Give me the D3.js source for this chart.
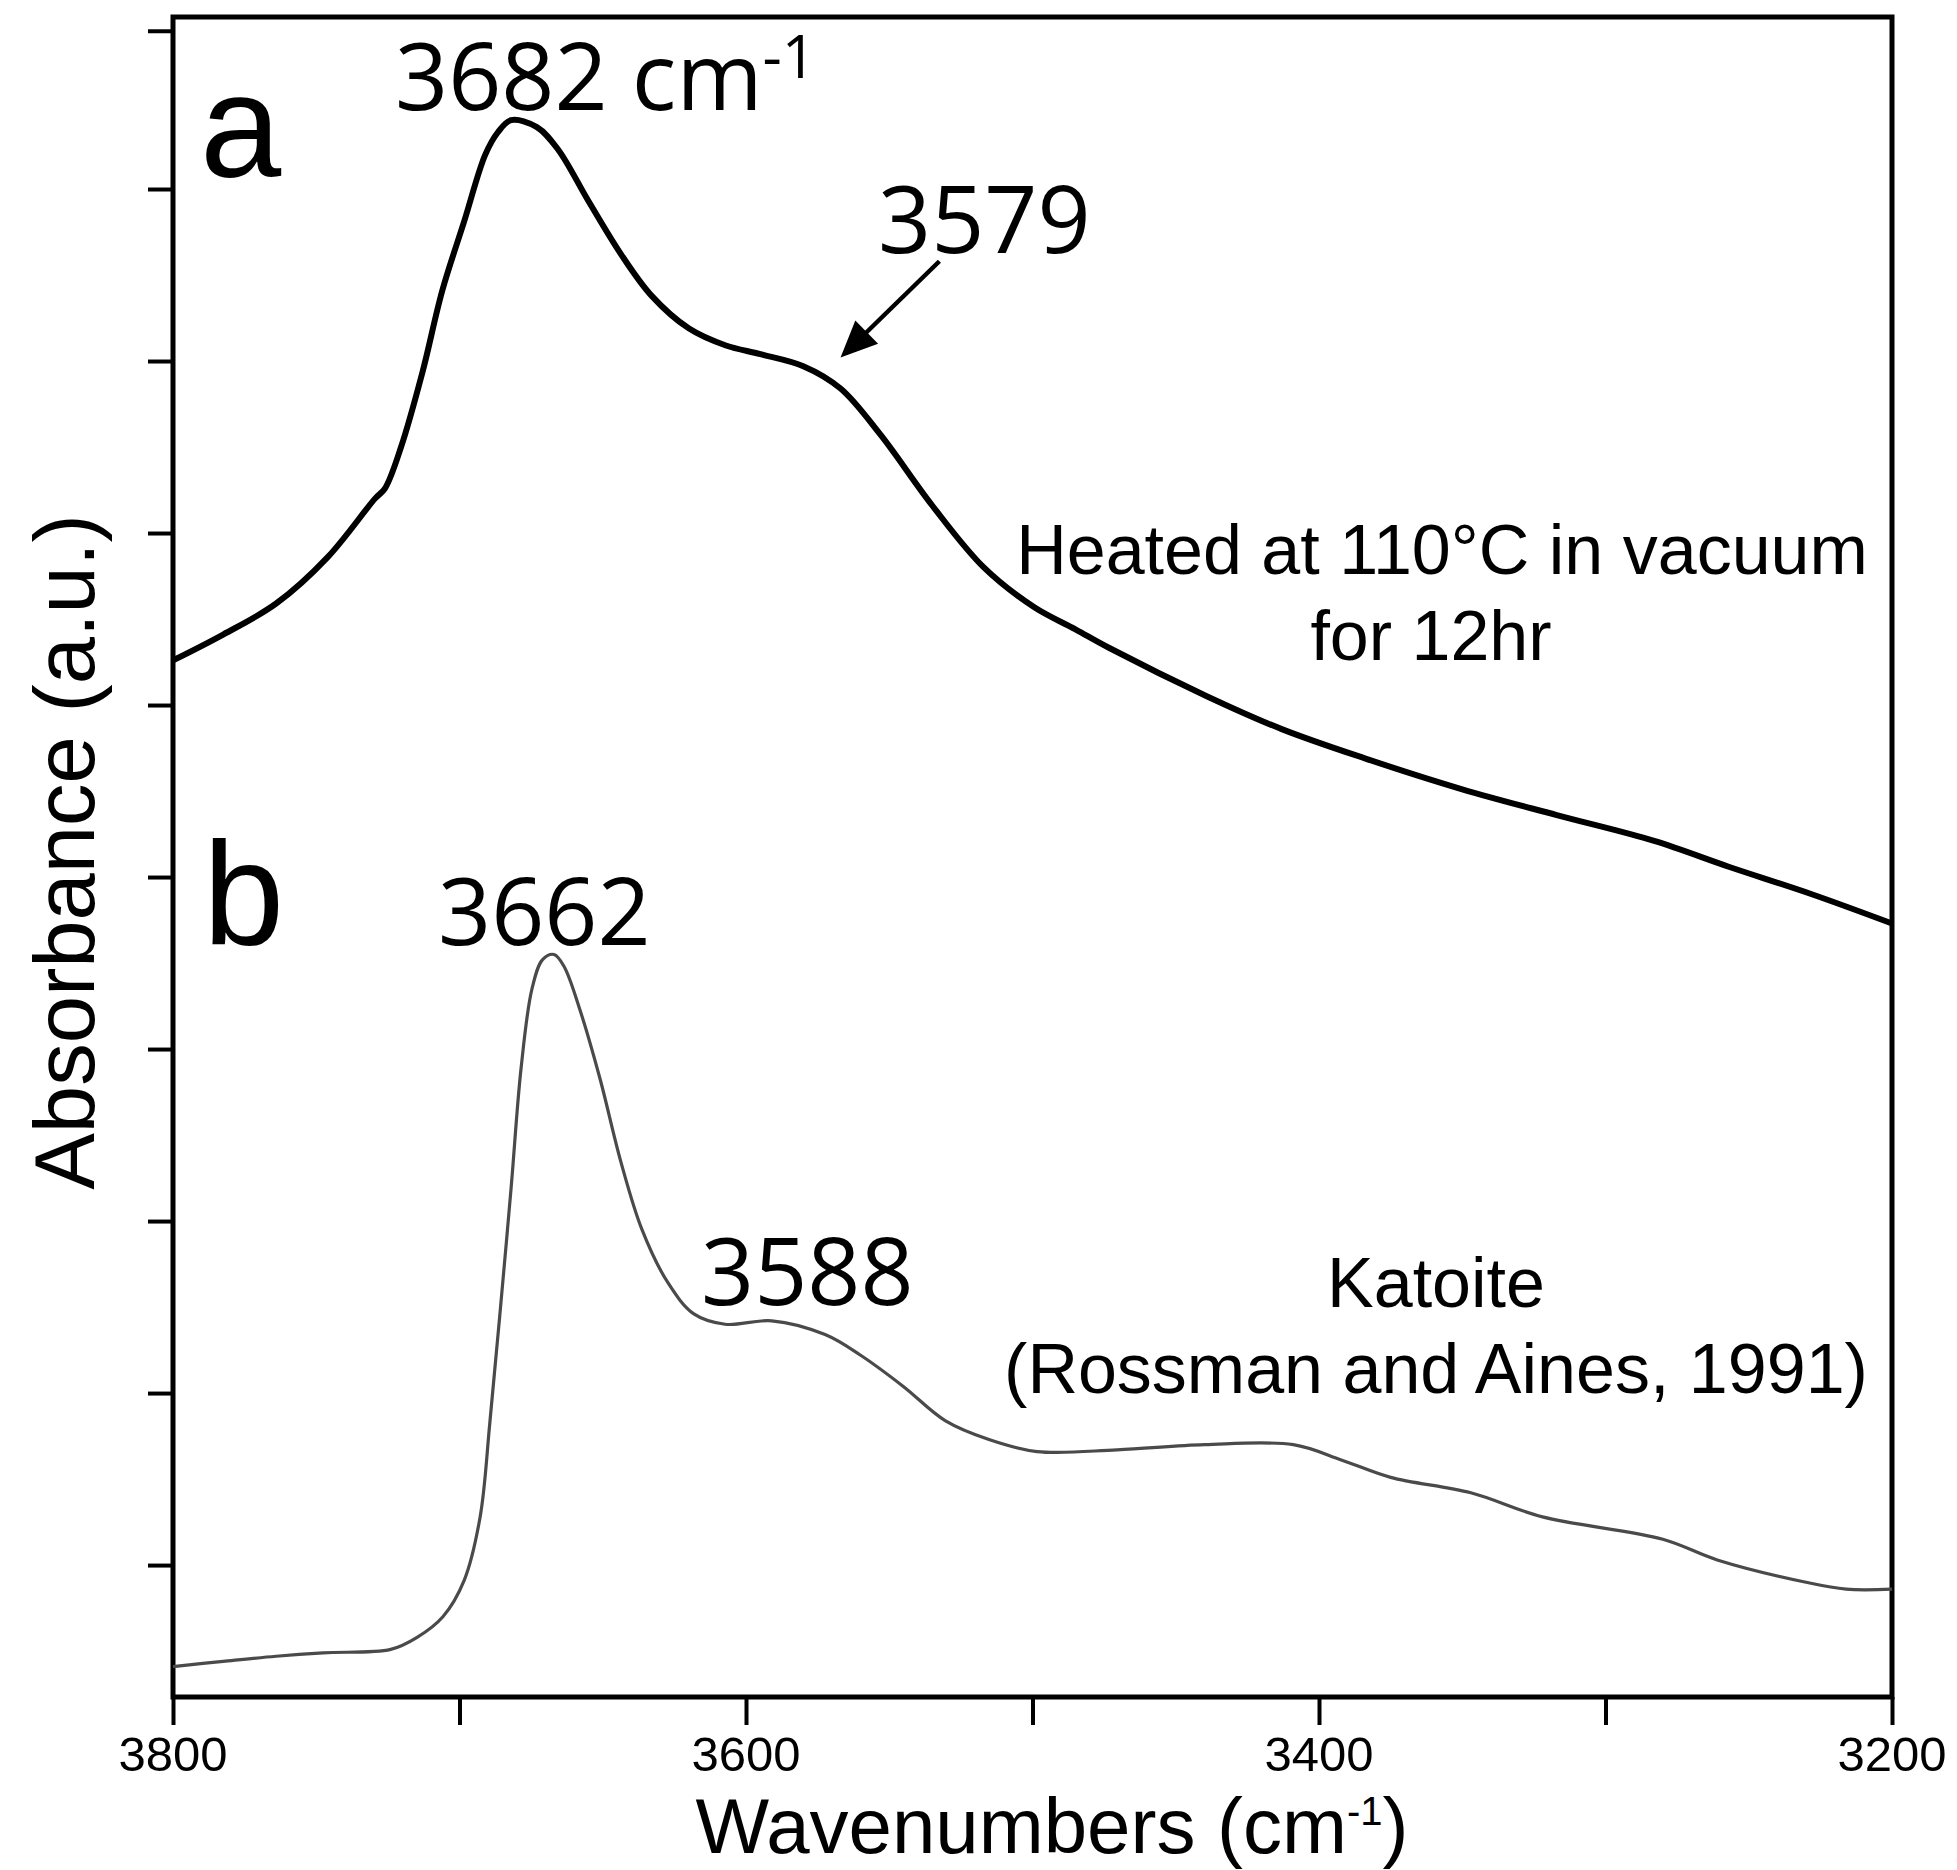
<!DOCTYPE html>
<html>
<head>
<meta charset="utf-8">
<script src="https://cdn.jsdelivr.net/npm/d3@7"></script>
<style>
  html, body { margin: 0; padding: 0; background: #fff; }
  svg { display: block; }
</style>
</head>
<body>
<svg id="chart" width="1957" height="1870"></svg>
<script>
// Spectrum a: heated at 110 °C in vacuum for 12 hr (wavenumber, absorbance in tick units)
const waveA = [3800, 3782.5, 3764, 3746, 3729.5, 3726, 3720.4, 3713, 3706, 3698.4, 3691, 3686.6, 3682,
  3673, 3665.6, 3655, 3643.6, 3633, 3620, 3607, 3595, 3580, 3567, 3553, 3535, 3517, 3499.5, 3485,
  3473, 3439, 3413, 3384, 3350, 3317, 3283, 3257, 3228, 3200];
const absA = [6.26, 6.41, 6.59, 6.86, 7.20, 7.26, 7.50, 7.93, 8.41, 8.81, 9.20, 9.33, 9.40,
  9.36, 9.23, 8.93, 8.62, 8.38, 8.19, 8.09, 8.04, 7.97, 7.84, 7.57, 7.16, 6.80, 6.57, 6.44,
  6.33, 6.05, 5.86, 5.69, 5.51, 5.36, 5.21, 5.06, 4.90, 4.73];

// Spectrum b: katoite reference (Rossman and Aines, 1991)
const waveB = [3800, 3782.5, 3764, 3747.6, 3724, 3714.8, 3705.8, 3698.4, 3692.8, 3689.4, 3686, 3682,
  3678.5, 3674.7, 3671, 3667, 3663.5, 3658, 3651, 3643.6, 3636.3, 3627.2, 3618.2, 3607.3, 3591,
  3572.4, 3560, 3545.2, 3530.5, 3515.2, 3498.4, 3470.5, 3440, 3409, 3392, 3375, 3347, 3322, 3280,
  3261, 3230, 3216, 3200];
const absB = [0.41, 0.44, 0.47, 0.49, 0.51, 0.58, 0.70, 0.91, 1.28, 1.83, 2.44, 3.19,
  3.89, 4.35, 4.52, 4.55, 4.48, 4.23, 3.83, 3.34, 2.95, 2.64, 2.46, 2.40, 2.42,
  2.34, 2.22, 2.04, 1.84, 1.73, 1.66, 1.67, 1.70, 1.70, 1.61, 1.51, 1.42, 1.28, 1.15,
  1.03, 0.90, 0.86, 0.86];

// Axis ticks
const xTicks = [3800, 3700, 3600, 3500, 3400, 3300, 3200];
const xTickLabels = [3800, 3600, 3400, 3200];
const yTicks = [1, 2, 3, 4, 5, 6, 7, 8, 9, 9.92];

const svg = d3.select("#chart");
const plotL = 173, plotR = 1892, plotT = 17, plotB = 1697;

const x = d3.scaleLinear().domain([3800, 3200]).range([plotL, plotR]);
const y = d3.scaleLinear().domain([0.233, 10]).range([plotB, plotT]);

const ARIAL = "'Liberation Sans', Arial, sans-serif";
const SANS = "'Open Sans', 'Noto Sans', sans-serif";

// Ticks
const yAxis = svg.append("g")
  .attr("transform", `translate(${plotL},0)`)
  .call(d3.axisLeft(y).tickValues(yTicks).tickSize(25).tickFormat(""));
yAxis.select(".domain").remove();
yAxis.selectAll(".tick line").attr("stroke", "#000").attr("stroke-width", 4);

const xAxis = svg.append("g")
  .attr("transform", `translate(0,${plotB})`)
  .call(d3.axisBottom(x).tickValues(xTicks).tickSize(28).tickFormat(""));
xAxis.select(".domain").remove();
xAxis.selectAll(".tick line").attr("stroke", "#000").attr("stroke-width", 4);

// Tick labels
svg.append("g").selectAll("text")
  .data(xTickLabels)
  .join("text")
  .attr("x", d => x(d))
  .attr("y", 1771)
  .attr("text-anchor", "middle")
  .attr("font-family", ARIAL)
  .attr("font-size", 49)
  .text(d => d);

// Plot frame
svg.append("rect")
  .attr("x", plotL).attr("y", plotT)
  .attr("width", plotR - plotL).attr("height", plotB - plotT)
  .attr("fill", "none").attr("stroke", "#000").attr("stroke-width", 5);

// Spectra
const line = d3.line()
  .x(d => x(d[0]))
  .y(d => y(d[1]))
  .curve(d3.curveCatmullRom.alpha(0.5));

svg.append("path")
  .datum(waveA.map((w, i) => [w, absA[i]]))
  .attr("d", line)
  .attr("fill", "none")
  .attr("stroke", "#000")
  .attr("stroke-width", 6)
  .attr("stroke-linejoin", "round");

svg.append("path")
  .datum(waveB.map((w, i) => [w, absB[i]]))
  .attr("d", line)
  .attr("fill", "none")
  .attr("stroke", "#4a4a4a")
  .attr("stroke-width", 3.2)
  .attr("stroke-linejoin", "round");

// Panel letters
svg.append("text").attr("x", 200).attr("y", 177)
  .attr("font-family", ARIAL).attr("font-size", 146).text("a");
svg.append("text").attr("x", 203).attr("y", 944)
  .attr("font-family", ARIAL).attr("font-size", 146).text("b");

// Peak annotations
const peakA = svg.append("text").attr("x", 395).attr("y", 110)
  .attr("font-family", SANS).attr("font-size", 93);
peakA.append("tspan").text("3682 cm");
peakA.append("tspan").attr("font-size", 60).attr("dy", -32).text("-1");

svg.append("text").attr("x", 878).attr("y", 253)
  .attr("font-family", SANS).attr("font-size", 93).text("3579");
svg.append("text").attr("x", 438).attr("y", 945)
  .attr("font-family", SANS).attr("font-size", 93).text("3662");
svg.append("text").attr("x", 701).attr("y", 1305)
  .attr("font-family", SANS).attr("font-size", 93).text("3588");

// Arrow pointing at the 3579 shoulder
const tail = [x(3532.5), y(8.58)];
const tip = [x(3567), y(8.02)];
svg.append("line")
  .attr("x1", tail[0]).attr("y1", tail[1])
  .attr("x2", tip[0] + (tail[0] - tip[0]) * 0.25)
  .attr("y2", tip[1] + (tail[1] - tip[1]) * 0.25)
  .attr("stroke", "#000").attr("stroke-width", 4.5);
{
  const ang = Math.atan2(tail[1] - tip[1], tail[0] - tip[0]);
  const len = 40, half = 0.42;
  const p1 = [tip[0] + len * Math.cos(ang - half), tip[1] + len * Math.sin(ang - half)];
  const p2 = [tip[0] + len * Math.cos(ang + half), tip[1] + len * Math.sin(ang + half)];
  svg.append("path")
    .attr("d", `M${tip[0]},${tip[1]}L${p1[0]},${p1[1]}L${p2[0]},${p2[1]}Z`)
    .attr("fill", "#000");
}

// Sample descriptions
svg.append("text").attr("x", 1442).attr("y", 574).attr("text-anchor", "middle")
  .attr("font-family", ARIAL).attr("font-size", 70).text("Heated at 110°C in vacuum");
svg.append("text").attr("x", 1431).attr("y", 660).attr("text-anchor", "middle")
  .attr("font-family", ARIAL).attr("font-size", 70).text("for 12hr");
svg.append("text").attr("x", 1436).attr("y", 1307).attr("text-anchor", "middle")
  .attr("font-family", ARIAL).attr("font-size", 70).text("Katoite");
svg.append("text").attr("x", 1436).attr("y", 1393).attr("text-anchor", "middle")
  .attr("font-family", ARIAL).attr("font-size", 70).text("(Rossman and Aines, 1991)");

// Axis titles
const xTitle = svg.append("text").attr("x", 1052).attr("y", 1853).attr("text-anchor", "middle")
  .attr("font-family", ARIAL).attr("font-size", 78);
xTitle.append("tspan").text("Wavenumbers (cm");
xTitle.append("tspan").attr("font-size", 40).attr("dy", -28).text("-1");
xTitle.append("tspan").attr("dy", 28).text(")");

svg.append("text")
  .attr("transform", "translate(94,852) rotate(-90)")
  .attr("text-anchor", "middle")
  .attr("font-family", ARIAL).attr("font-size", 85)
  .text("Absorbance (a.u.)");
</script>
</body>
</html>
